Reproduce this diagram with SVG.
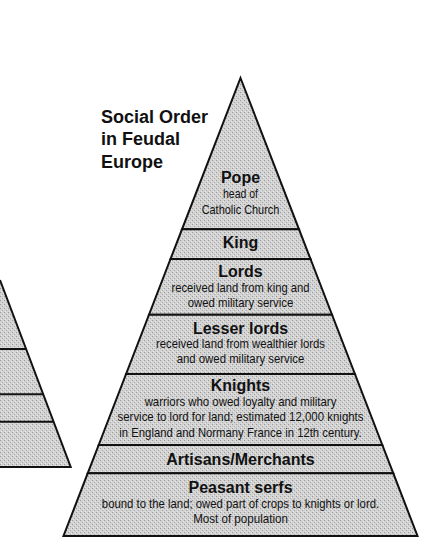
<svg xmlns="http://www.w3.org/2000/svg" width="438" height="550" viewBox="0 0 438 550">
<defs>
<pattern id="stip" width="4" height="4" patternUnits="userSpaceOnUse">
<rect width="4" height="4" fill="#d2d2d2"/>
<rect x="0" y="0" width="1" height="1" fill="#9a9a9a"/>
<rect x="2" y="2" width="1" height="1" fill="#a8a8a8"/>
<rect x="3" y="1" width="1" height="1" fill="#e6e6e6"/>
<rect x="1" y="3" width="1" height="1" fill="#e6e6e6"/>
</pattern>
</defs>
<style>
.tier{fill:url(#stip);stroke:#111;stroke-width:2;stroke-linejoin:miter}
.ln{stroke:#111;stroke-width:2;fill:none}
.h{font-family:"Liberation Sans",Arial,sans-serif;font-weight:bold;font-size:16px;fill:#111;text-anchor:middle}
.s{font-family:"Liberation Sans",Arial,sans-serif;font-size:13px;fill:#111;text-anchor:middle}
.t{font-family:"Liberation Sans",Arial,sans-serif;font-weight:bold;font-size:18px;fill:#111}
</style>
<rect width="438" height="550" fill="#fff"/>

<g id="left-pyramid">
<polygon points="0,280 70.7,467 0,467" fill="url(#stip)"/>
<polyline class="ln" points="0,280 70.7,467 0,467"/>
<line class="ln" x1="0" y1="349" x2="26" y2="349"/>
<line class="ln" x1="0" y1="394.3" x2="43" y2="394.3"/>
<line class="ln" x1="0" y1="421.7" x2="53" y2="421.7"/>
</g>

<g id="title">
<text class="t" x="101" y="122.5">Social Order</text>
<text class="t" x="101" y="145">in Feudal</text>
<text class="t" x="101" y="167.5">Europe</text>
</g>

<g id="pope">
<polygon class="tier" points="240.5,78 299,229.3 182,229.3"/>
<text class="h" x="240.5" y="183.3" font-size="15.5">Pope</text>
<text class="s" x="240.5" y="198.3" font-size="13.5" textLength="35" lengthAdjust="spacingAndGlyphs">head of</text>
<text class="s" x="240.5" y="214" font-size="13.5" textLength="77.7" lengthAdjust="spacingAndGlyphs">Catholic Church</text>
</g>

<g id="king">
<polygon class="tier" points="182,229.3 299,229.3 310.5,259 170.5,259"/>
<text class="h" x="240.5" y="248.3" font-size="15.5">King</text>
</g>

<g id="lords">
<polygon class="tier" points="170.5,259 310.5,259 332,314.7 149,314.7"/>
<text class="h" x="240.5" y="276.7">Lords</text>
<text class="s" x="240.5" y="291.7" textLength="138" lengthAdjust="spacingAndGlyphs">received land from king and</text>
<text class="s" x="240.5" y="306.7" textLength="105.6" lengthAdjust="spacingAndGlyphs">owed military service</text>
</g>

<g id="lesser-lords">
<polygon class="tier" points="149,314.7 332,314.7 354.9,374 126.1,374"/>
<text class="h" x="240.5" y="334">Lesser lords</text>
<text class="s" x="240.5" y="348.3" textLength="169" lengthAdjust="spacingAndGlyphs">received land from wealthier lords</text>
<text class="s" x="240.5" y="363.3" textLength="127.7" lengthAdjust="spacingAndGlyphs">and owed military service</text>
</g>

<g id="knights">
<polygon class="tier" points="126.1,374 354.9,374 382.3,445 98.7,445"/>
<text class="h" x="240.5" y="391">Knights</text>
<text class="s" x="240.5" y="406" font-size="12.5" textLength="191.7" lengthAdjust="spacingAndGlyphs">warriors who owed loyalty and military</text>
<text class="s" x="240.5" y="421" font-size="12.5" textLength="246" lengthAdjust="spacingAndGlyphs">service to lord for land; estimated 12,000 knights</text>
<text class="s" x="240.5" y="436.7" font-size="12.5" textLength="242.3" lengthAdjust="spacingAndGlyphs">in England and Normany France in 12th century.</text>
</g>

<g id="artisans-merchants">
<polygon class="tier" points="98.7,445 382.3,445 393.3,473.3 87.7,473.3"/>
<text class="h" x="240.5" y="465">Artisans/Merchants</text>
</g>

<g id="peasant-serfs">
<polygon class="tier" points="87.7,473.3 393.3,473.3 417.5,536 63.5,536"/>
<text class="h" x="240.5" y="492.7">Peasant serfs</text>
<text class="s" x="240.5" y="507.7" textLength="277.3" lengthAdjust="spacingAndGlyphs">bound to the land; owed part of crops to knights or lord.</text>
<text class="s" x="240.5" y="522.7" textLength="94.7" lengthAdjust="spacingAndGlyphs">Most of population</text>
</g>
</svg>
